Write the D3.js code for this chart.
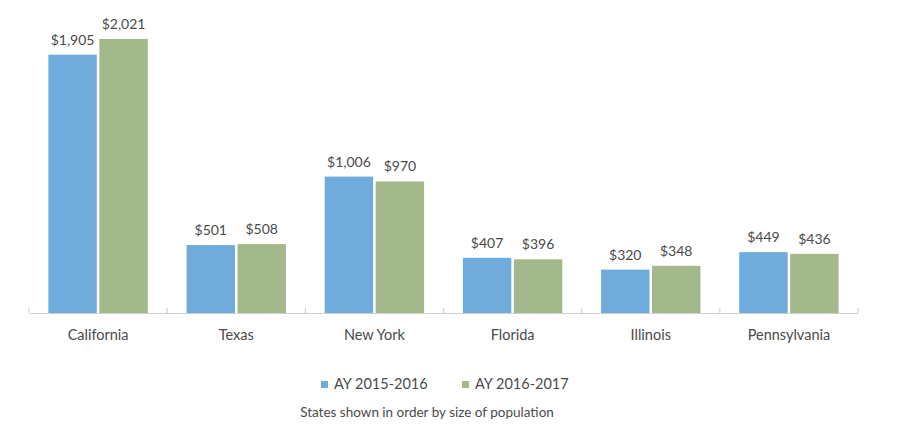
<!DOCTYPE html>
<html>
<head>
<meta charset="utf-8">
<script src="https://cdn.jsdelivr.net/npm/d3@7"></script>
<style>
  body { margin: 0; background: #fff; }
  text { font-family: Lato, "Open Sans", sans-serif; fill: #4a4a4a; }
</style>
</head>
<body>
<div class="chart-container"></div>
<script>
//! DATA
const STATES = ['California', 'Texas', 'New York', 'Florida', 'Illinois', 'Pennsylvania'];
const SERIES = ['AY 2015-2016', 'AY 2016-2017'];
const AY_2015 = [1905, 501, 1006, 407, 320, 449];
const AY_2016 = [2021, 508, 970, 396, 348, 436];
const COLORS = ['#70acdb', '#a3b98b'];
const NOTE = 'States shown in order by size of population';

//! CONSTS
const WIDTH = 900;
const HEIGHT = 425;
const LEFT = 29, RIGHT = 858, BASE = 313;

const svg = d3.select('.chart-container')
  .append('svg')
  .attr('width', WIDTH)
  .attr('height', HEIGHT);

const x = d3.scaleBand()
  .domain(STATES)
  .range([LEFT, RIGHT])
  .paddingInner(0)
  .paddingOuter(0);

const inner = d3.scaleBand()
  .domain(SERIES)
  .range([0, x.bandwidth()])
  .paddingInner(0.05)
  .paddingOuter(0.38);

const y = d3.scaleLinear()
  .domain([0, 2200])
  .range([BASE, BASE - 2200 * 0.1356]);

const fmt = d3.format('$,');

const rows = STATES.map((s, i) => ({ state: s, values: [AY_2015[i], AY_2016[i]] }));

// bars
const groups = svg.append('g')
  .selectAll('g')
  .data(rows)
  .enter()
  .append('g')
  .attr('transform', d => `translate(${x(d.state)},0)`);

groups.selectAll('rect')
  .data(d => d.values.map((v, j) => ({ key: SERIES[j], v, j })))
  .enter()
  .append('rect')
  .attr('x', d => inner(d.key))
  .attr('width', inner.bandwidth())
  .attr('y', d => y(d.v))
  .attr('height', d => BASE - y(d.v))
  .attr('fill', d => COLORS[d.j]);

groups.selectAll('text.val')
  .data(d => d.values.map((v, j) => ({ key: SERIES[j], v, j })))
  .enter()
  .append('text')
  .attr('class', 'val')
  .attr('x', d => inner(d.key) + inner.bandwidth() / 2)
  .attr('y', d => y(d.v) - 10)
  .attr('text-anchor', 'middle')
  .attr('font-size', 14)
  .text(d => fmt(d.v));

// axis
const axis = svg.append('g')
  .attr('transform', `translate(0,${BASE})`)
  .call(d3.axisBottom(x).tickSize(0).tickPadding(17));
axis.select('.domain').attr('stroke', '#d0d0d0').attr('stroke-width', 1.2);
axis.selectAll('.tick text')
  .attr('font-size', 14.5)
  .attr('fill', '#4a4a4a')
  .style('font-family', 'Lato, "Open Sans", sans-serif');

// tick marks on group boundaries
svg.append('g')
  .selectAll('line')
  .data(STATES.map(s => x(s)).concat([RIGHT]))
  .enter()
  .append('line')
  .attr('x1', d => d).attr('x2', d => d)
  .attr('y1', BASE - 5).attr('y2', BASE)
  .attr('stroke', '#d0d0d0')
  .attr('stroke-width', 1.2);

// legend
const legendX = [321, 462];
const legend = svg.append('g')
  .selectAll('g')
  .data(SERIES)
  .enter()
  .append('g')
  .attr('transform', (d, i) => `translate(${legendX[i]},381)`);
legend.append('rect')
  .attr('width', 7).attr('height', 7)
  .attr('fill', (d, i) => COLORS[i]);
legend.append('text')
  .attr('x', 13).attr('y', 8)
  .attr('font-size', 14.5)
  .text(d => d);

svg.append('text')
  .attr('x', 427).attr('y', 417)
  .attr('text-anchor', 'middle')
  .attr('font-size', 13.5)
  .text(NOTE);
</script>
</body>
</html>
